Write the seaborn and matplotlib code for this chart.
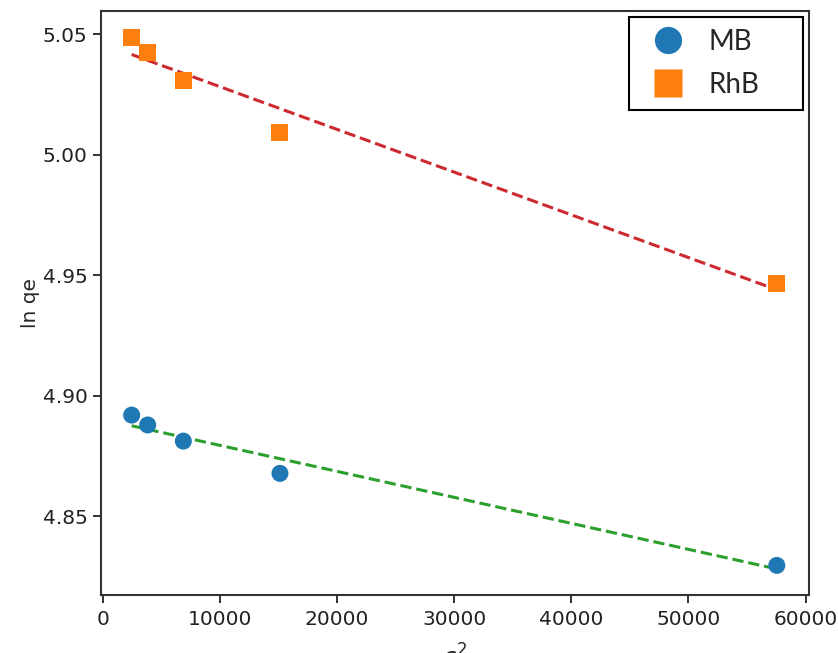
import numpy as np
import pandas as pd
import matplotlib
matplotlib.use('Agg')
import matplotlib.pyplot as plt
import seaborn as sns

# values
eps2 = [2470, 3840, 6880, 15130, 57540]
lnqe_mb = [4.8919, 4.8878, 4.8811, 4.8677, 4.8295]
lnqe_rhb = [5.0488, 5.0424, 5.0310, 5.0091, 4.9464]
series = ['MB', 'RhB']

df = pd.DataFrame({
    'eps2': eps2 * 2,
    'lnqe': lnqe_mb + lnqe_rhb,
    'dye': [series[0]] * len(eps2) + [series[1]] * len(eps2),
})

sns.set_style('ticks')
plt.rcParams['axes.edgecolor'] = '#333333'

fig = plt.figure(figsize=(8.38, 6.53), dpi=100)
ax = fig.add_axes([0.1202, 0.0888, 0.8455, 0.8948])

# dashed least-squares lines first, so the markers sit on top
sns.regplot(data=df[df.dye == 'RhB'], x='eps2', y='lnqe', scatter=False, ci=None,
            color='#cc2a30', line_kws=dict(ls='--', lw=2.2), ax=ax)
sns.regplot(data=df[df.dye == 'MB'], x='eps2', y='lnqe', scatter=False, ci=None,
            color='#2ca02c', line_kws=dict(ls='--', lw=2.2), ax=ax)

sns.scatterplot(data=df, x='eps2', y='lnqe', hue='dye', style='dye',
                markers={'MB': 'o', 'RhB': 's'},
                palette={'MB': '#1f77b4', 'RhB': '#ff7f0e'},
                s=150, edgecolor='none', ax=ax, zorder=3)

ax.set_xlim(-170, 60310)
ax.set_ylim(4.8172, 5.0598)
ax.set_xticks([0, 10000, 20000, 30000, 40000, 50000, 60000])
ax.set_yticks([4.85, 4.90, 4.95, 5.00, 5.05])
ax.yaxis.set_major_formatter(matplotlib.ticker.FormatStrFormatter('%.2f'))
ax.tick_params(labelsize=14.5, colors='#222222', width=1.3, length=6)
ax.tick_params(axis='x', pad=5)
for sp in ax.spines.values():
    sp.set_linewidth(1.5)

ax.set_ylabel('ln qe', fontsize=14.5, labelpad=2)
ax.set_xlabel(r'$\varepsilon^2$', fontsize=17, labelpad=11)

# legend box stretched to the same width as in the reference
leg = ax.legend(loc='upper left', bbox_to_anchor=(0.7456, 0.8369, 0.2454, 0.152),
                mode='expand', borderaxespad=0,
                frameon=True, fancybox=False, edgecolor='black', framealpha=1,
                markerscale=1.6, handletextpad=0.45, borderpad=0.42,
                labelspacing=0.62, prop={'family': 'Lato', 'size': 20})
leg.get_frame().set_linewidth(1.5)
leg.set_title(None)

fig.savefig('out.png', dpi=100)
